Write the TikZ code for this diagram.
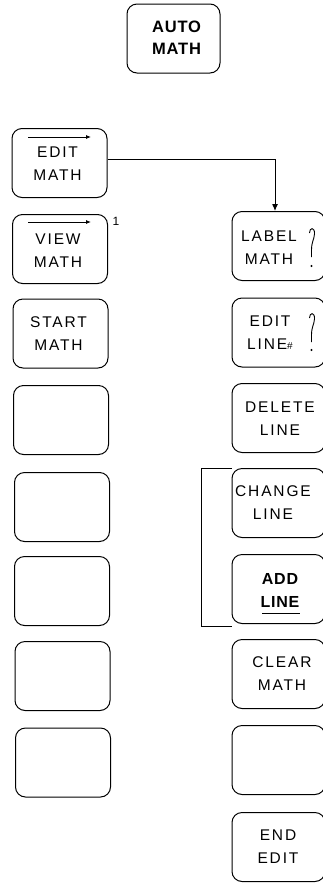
\documentclass[tikz,border=0pt]{standalone}
\usepackage{fontspec}
\setmainfont{Liberation Sans}
\newfontfamily\keyfont[LetterSpace=12]{Liberation Sans}
\newfontfamily\boldkeyfont[LetterSpace=5]{Liberation Sans}
\usetikzlibrary{arrows.meta}
\begin{document}
\begin{tikzpicture}[x=1pt,y=-1pt,
  key/.style={draw,line width=1pt,rounded corners=10pt,minimum width=95pt,minimum height=69pt,inner sep=0pt},
  rkey/.style={key,minimum width=93pt},
  ktext/.style={align=center,inner sep=0pt,font=\keyfont\fontsize{15.5}{23}\selectfont},
  btext/.style={align=center,inner sep=0pt,font=\boldkeyfont\bfseries\fontsize{16.5}{22}\selectfont},
  ovarrow/.style={line width=0.8pt,-{Latex[length=5pt,width=4pt]}},
  conn/.style={line width=1pt}]
\useasboundingbox (0,0) rectangle (323,884);
% top key
\node[key,minimum width=93pt] (auto) at (173.5,38.5) {};
\node[btext] (tauto) at (176.5,37.5) {AUTO\\MATH};
% left column
\node[key] (edit) at (59.5,163) {};
\node[ktext] (tedit) at (57.5,163.5) {EDIT\\MATH};
\node[key] (view) at (60,249) {};
\node[ktext] (tview) at (58,251) {VIEW\\MATH};
\node[key] (start) at (60.5,333.5) {};
\node[ktext] (tstart) at (58.5,334) {START\\MATH};
\node[key] (b1) at (61,420) {};
\node[key] (b2) at (62,507) {};
\node[key] (b3) at (62,591) {};
\node[key] (b4) at (62.5,676) {};
\node[key] (b5) at (63,762.5) {};
% overbar arrows
\coordinate (ea1) at (28,137); \coordinate (ea2) at (91,137);
\draw[ovarrow] (ea1) -- (ea2);
\coordinate (va1) at (28,222); \coordinate (va2) at (91,222);
\draw[ovarrow] (va1) -- (va2);
\node[font=\fontsize{12}{12}\selectfont,inner sep=0pt] (one) at (116,221) {1};
% right column
\node[rkey] (label) at (278.5,246) {};
\node[ktext] (tlabel) at (269,248) {LABEL\\MATH};
\node[rkey] (eline) at (278.5,332.5) {};
\node[ktext] (teline) at (270,333) {EDIT\\LINE{\fontsize{10}{10}\selectfont\#}};
\node[rkey] (delete) at (278.5,418) {};
\node[ktext] (tdelete) at (280,418.5) {DELETE\\LINE};
\node[rkey] (change) at (278.5,503) {};
\node[ktext] (tchange) at (273,503) {CHANGE\\LINE};
\node[rkey] (add) at (278.5,589) {};
\node[align=center,inner sep=0pt,font=\boldkeyfont\bfseries\fontsize{16}{23}\selectfont] (tadd) at (280,590) {ADD\\LINE};
\draw[line width=1pt] (262,613) -- (300,613);
\node[rkey] (clear) at (278.5,674) {};
\node[ktext] (tclear) at (282,674) {CLEAR\\MATH};
\node[rkey] (rblank) at (278.5,760) {};
\node[rkey] (endk) at (278.5,847) {};
\node[ktext] (tend) at (278,847) {END\\EDIT};
% question marks
\draw[line width=0.9pt] (309.5,233) .. controls (309.5,227) and (315,227) .. (314.5,234) .. controls (314,240) and (311.5,242) .. (311.5,250) -- (311.5,257);
\fill (311.5,266) circle (1.2pt);
\draw[line width=0.9pt] (309.5,318) .. controls (309.5,312) and (315,312) .. (314.5,319) .. controls (314,325) and (311.5,327) .. (311.5,335) -- (311.5,342);
\fill (311.5,350) circle (1.2pt);
% connector EDIT MATH -> LABEL MATH
\draw[conn,-{Latex[length=7pt,width=6pt]}] ([yshift=4pt]edit.east) -| ([xshift=-3.5pt]label.north);
% bracket
\draw[conn] (change.north west) -- ++(-30,0) |- ([yshift=-2.5pt]add.south west);
\end{tikzpicture}
\end{document}
